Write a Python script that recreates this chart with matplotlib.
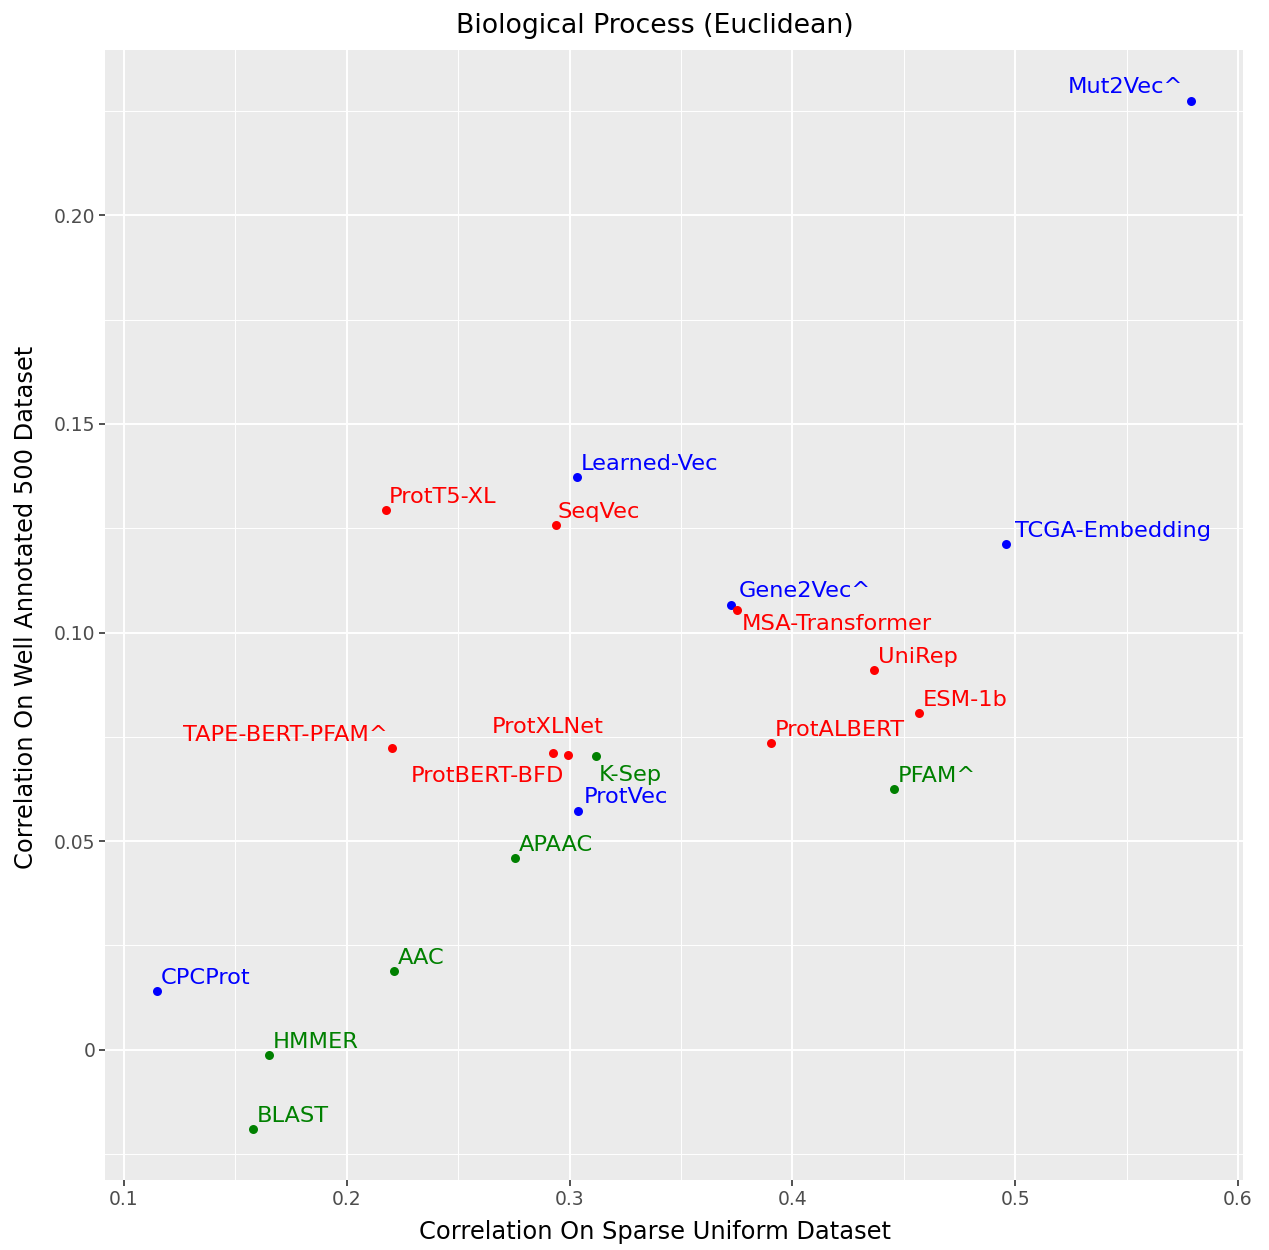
import matplotlib
matplotlib.use("Agg")
import matplotlib.pyplot as plt
from matplotlib.ticker import FixedLocator

# embedding methods, sparse uniform vs well annotated 500 correlations
names = ["Mut2Vec^", "Learned-Vec", "ProtT5-XL", "SeqVec", "TCGA-Embedding",
         "Gene2Vec^", "MSA-Transformer", "UniRep", "ESM-1b", "ProtALBERT",
         "TAPE-BERT-PFAM^", "ProtXLNet", "ProtBERT-BFD", "K-Sep", "PFAM^",
         "ProtVec", "APAAC", "AAC", "CPCProt", "HMMER", "BLAST"]
sparse = [0.579, 0.3033, 0.2175, 0.2939, 0.4959,
          0.3724, 0.3751, 0.4366, 0.4568, 0.3904,
          0.2202, 0.2925, 0.2992, 0.3118, 0.4456,
          0.3037, 0.2754, 0.2211, 0.1147, 0.165, 0.1578]
well = [0.2273, 0.1372, 0.1293, 0.1257, 0.1211,
        0.1067, 0.1053, 0.0909, 0.0806, 0.0736,
        0.0724, 0.0712, 0.0707, 0.0705, 0.0624,
        0.0573, 0.0460, 0.0189, 0.0141, -0.0012, -0.0189]
groups = ["gene", "gene", "protein", "protein", "gene",
          "gene", "protein", "protein", "protein", "protein",
          "protein", "protein", "protein", "classic", "classic",
          "gene", "classic", "classic", "gene", "classic", "classic"]

group_colors = {"gene": "blue", "protein": "red", "classic": "green"}

# label placement: (dx, dy) in pixels, horizontal alignment
label_pos = {
    "Mut2Vec^": (-8, 8, "right"),
    "ProtXLNet": (-5, 20, "center"),
    "ProtBERT-BFD": (-4, -27, "right"),
    "TAPE-BERT-PFAM^": (-4, 7, "right"),
    "K-Sep": (3, -25, "left"),
    "MSA-Transformer": (5, -20, "left"),
    "TCGA-Embedding": (9, 7, "left"),
    "Gene2Vec^": (8, 8, "left"),
    "ProtVec": (6, 8, "left"),
    "SeqVec": (2, 7, "left"),
    "ProtT5-XL": (3, 7, "left"),
}

fig = plt.figure(figsize=(12.69, 12.5), dpi=100)
ax = fig.add_axes([0.0827, 0.056, 0.8968, 0.904])
ax.set_facecolor("#EBEBEB")

for n, x, y, g in zip(names, sparse, well, groups):
    c = group_colors[g]
    ax.scatter(x, y, s=42, color=c, zorder=3, linewidths=0)
    dx, dy, ha = label_pos.get(n, (4, 7, "left"))
    ax.annotate(n, (x, y), xytext=(dx, dy), textcoords="offset pixels",
                ha=ha, va="baseline", color=c, fontsize=16.2, zorder=4)

ax.margins(0.05)

ax.xaxis.set_major_locator(FixedLocator([0.1, 0.2, 0.3, 0.4, 0.5, 0.6]))
ax.xaxis.set_minor_locator(FixedLocator([0.15, 0.25, 0.35, 0.45, 0.55]))
ax.yaxis.set_major_locator(FixedLocator([0, 0.05, 0.10, 0.15, 0.20]))
ax.yaxis.set_minor_locator(FixedLocator([-0.025, 0.025, 0.075, 0.125, 0.175, 0.225]))
ax.set_xticklabels(["0.1", "0.2", "0.3", "0.4", "0.5", "0.6"])
ax.set_yticklabels(["0", "0.05", "0.10", "0.15", "0.20"])

ax.grid(which="major", color="white", linewidth=1.4, zorder=0)
ax.grid(which="minor", color="white", linewidth=0.7, zorder=0)
ax.set_axisbelow(True)
for s in ax.spines.values():
    s.set_visible(False)

ax.tick_params(which="major", length=4, width=1.2, color="#333333",
               labelsize=13.5, labelcolor="#4D4D4D", pad=3)
ax.tick_params(which="minor", length=0)

ax.set_xlabel("Correlation On Sparse Uniform Dataset", fontsize=17.4, labelpad=4)
ax.set_ylabel("Correlation On Well Annotated 500 Dataset", fontsize=17.4, labelpad=11)
ax.xaxis.set_label_coords(0.483, -0.035)
ax.yaxis.get_label().set_y(0.507)
ax.set_title("Biological Process (Euclidean)", fontsize=19.3, pad=12, x=0.483)

fig.savefig("out.png", dpi=100)
